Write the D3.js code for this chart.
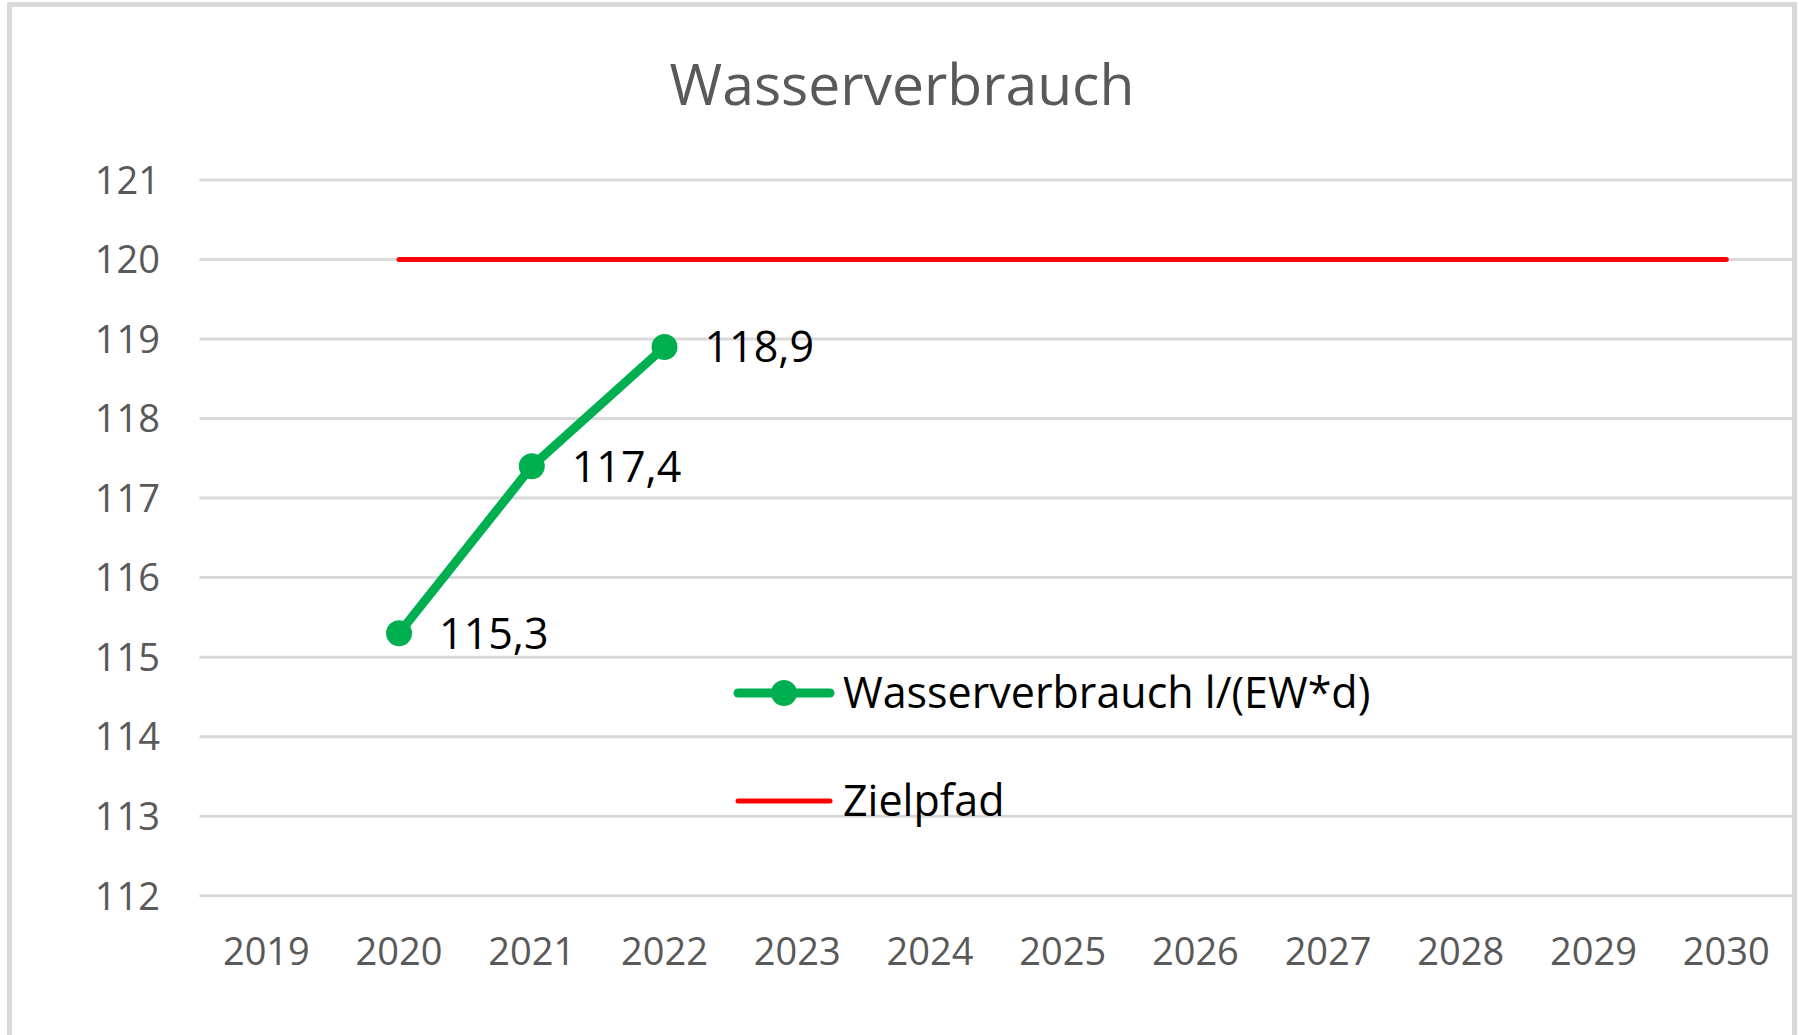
<!DOCTYPE html>
<html>
<head>
<meta charset="utf-8">
<script src="https://cdn.jsdelivr.net/npm/d3@7"></script>
<style>
  body { margin: 0; background: #fff; }
  text { font-family: "Open Sans", "Noto Sans", sans-serif; }
</style>
</head>
<body>
<div id="chart"></div>
<script>
// data
var years = ["2019", "2020", "2021", "2022", "2023", "2024", "2025", "2026", "2027", "2028", "2029", "2030"];
var verbrauchYears = ["2020", "2021", "2022"];
var verbrauch = [115.3, 117.4, 118.9];
var zielYears = ["2020", "2021", "2022", "2023", "2024", "2025", "2026", "2027", "2028", "2029", "2030"];
var ziel = [120, 120, 120, 120, 120, 120, 120, 120, 120, 120, 120];
var yTicks = [112, 113, 114, 115, 116, 117, 118, 119, 120, 121];
var seriesNames = ["Wasserverbrauch l/(EW*d)", "Zielpfad"];

var w = 1799, h = 1035;
var green = "#00b050", red = "#ff0000";

var svg = d3.select("#chart").append("svg")
    .attr("width", w)
    .attr("height", h);

// chart border
svg.append("rect")
    .attr("x", 9.5).attr("y", 4.5)
    .attr("width", 1785).attr("height", 1100)
    .attr("fill", "#fff")
    .attr("stroke", "#d9d9d9")
    .attr("stroke-width", 5);

// scales
var x = d3.scaleBand().domain(years).range([200, 1792.6]);
var y = d3.scaleLinear().domain([112, 121]).range([895.7, 180]);
var cx = function(d) { return x(d) + x.bandwidth() / 2; };

// title
svg.append("text")
    .attr("x", 902).attr("y", 105)
    .attr("text-anchor", "middle")
    .attr("font-size", 57)
    .attr("fill", "#595959")
    .text("Wasserverbrauch");

// gridlines
svg.append("g").selectAll("line")
    .data(yTicks)
    .enter().append("line")
    .attr("x1", 199.5).attr("x2", 1792.6)
    .attr("y1", function(d) { return y(d); })
    .attr("y2", function(d) { return y(d); })
    .attr("stroke", "#d9d9d9")
    .attr("stroke-width", 3);

// y axis
var yAxis = svg.append("g")
    .attr("transform", "translate(160,0)")
    .call(d3.axisLeft(y).tickValues(yTicks).tickSize(0).tickPadding(0));
yAxis.select(".domain").remove();
yAxis.selectAll("text")
    .attr("font-size", 38)
    .attr("fill", "#595959")
    .attr("font-family", "Open Sans")
    .attr("dy", "0.35em");

// x axis
var xAxis = svg.append("g")
    .attr("transform", "translate(0,965)")
    .call(d3.axisBottom(x).tickSize(0).tickPadding(0));
xAxis.select(".domain").remove();
xAxis.selectAll("text")
    .attr("font-size", 38)
    .attr("fill", "#595959")
    .attr("font-family", "Open Sans")
    .attr("dy", 0);

// Zielpfad
var zielLine = d3.line()
    .x(function(d, i) { return cx(zielYears[i]); })
    .y(function(d) { return y(d); });
svg.append("path")
    .datum(ziel)
    .attr("d", zielLine)
    .attr("fill", "none")
    .attr("stroke", red)
    .attr("stroke-width", 5)
    .attr("stroke-linecap", "round");

// Wasserverbrauch
var vLine = d3.line()
    .x(function(d, i) { return cx(verbrauchYears[i]); })
    .y(function(d) { return y(d); });
svg.append("path")
    .datum(verbrauch)
    .attr("d", vLine)
    .attr("fill", "none")
    .attr("stroke", green)
    .attr("stroke-width", 9)
    .attr("stroke-linejoin", "round");

svg.append("g").selectAll("circle")
    .data(verbrauch)
    .enter().append("circle")
    .attr("cx", function(d, i) { return cx(verbrauchYears[i]); })
    .attr("cy", function(d) { return y(d); })
    .attr("r", 13)
    .attr("fill", green);

// data labels
svg.append("g").selectAll("text")
    .data(verbrauch)
    .enter().append("text")
    .attr("x", function(d, i) { return cx(verbrauchYears[i]) + 40; })
    .attr("y", function(d) { return y(d); })
    .attr("dy", "0.36em")
    .attr("font-size", 43)
    .attr("fill", "#000")
    .text(function(d) { return d3.format(".1f")(d).replace(".", ","); });

// legend
var legend = svg.append("g");
legend.append("line")
    .attr("x1", 738).attr("x2", 830)
    .attr("y1", 693).attr("y2", 693)
    .attr("stroke", green).attr("stroke-width", 9)
    .attr("stroke-linecap", "round");
legend.append("circle")
    .attr("cx", 784).attr("cy", 693).attr("r", 13)
    .attr("fill", green);
legend.append("text")
    .attr("x", 843).attr("y", 693).attr("dy", "0.36em")
    .attr("font-size", 43)
    .attr("fill", "#000")
    .text(seriesNames[0]);
legend.append("line")
    .attr("x1", 738).attr("x2", 830)
    .attr("y1", 801).attr("y2", 801)
    .attr("stroke", red).attr("stroke-width", 5)
    .attr("stroke-linecap", "round");
legend.append("text")
    .attr("x", 843).attr("y", 801).attr("dy", "0.36em")
    .attr("font-size", 43)
    .attr("fill", "#000")
    .text(seriesNames[1]);
</script>
</body>
</html>
